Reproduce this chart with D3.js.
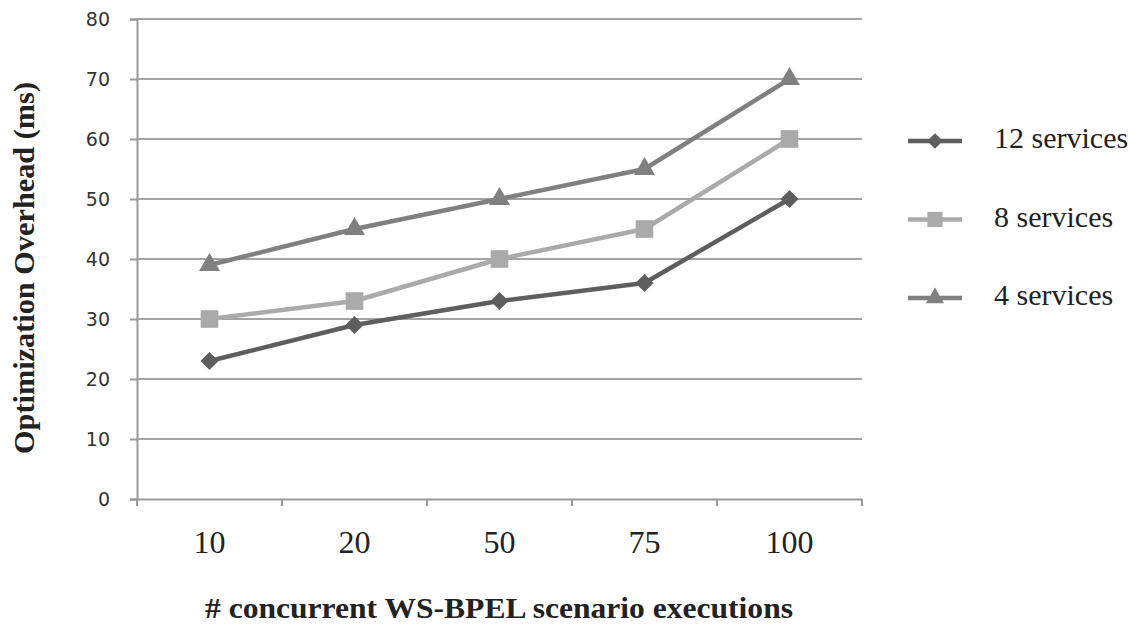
<!DOCTYPE html>
<html>
<head>
<meta charset="utf-8">
<script src="https://cdn.jsdelivr.net/npm/d3@7"></script>
<style>
  body { margin: 0; background: #fff; }
</style>
</head>
<body>
<div id="chart"></div>
<script>
// Chart data
var categories = ["10", "20", "50", "75", "100"];
var seriesNames = ["12 services", "8 services", "4 services"];
var services12 = [23, 29, 33, 36, 50];
var services8 = [30, 33, 40, 45, 60];
var services4 = [39, 45, 50, 55, 70];
var yTicks = [0, 10, 20, 30, 40, 50, 60, 70, 80];

var svgWidth = 1130;
var svgHeight = 626;

var margin = { top: 19, right: 268, bottom: 127, left: 137 };
var width = svgWidth - margin.left - margin.right;
var height = svgHeight - margin.top - margin.bottom;

var serif = "'Liberation Serif', 'Times New Roman', serif";

var svg = d3.select("#chart")
  .append("svg")
  .attr("width", svgWidth)
  .attr("height", svgHeight);

var chartGroup = svg.append("g")
  .attr("transform", `translate(${margin.left}, ${margin.top})`);

var xScale = d3.scaleBand()
  .domain(categories)
  .range([0, width]);

var yScale = d3.scaleLinear()
  .domain([0, 80])
  .range([height, 0]);

// gridlines
chartGroup.append("g")
  .selectAll("line")
  .data(yTicks.slice(1))
  .enter()
  .append("line")
  .attr("x1", 0)
  .attr("x2", width)
  .attr("y1", d => yScale(d))
  .attr("y2", d => yScale(d))
  .attr("stroke", "#a3a3a3")
  .attr("stroke-width", 2);

// y axis
var yAxis = chartGroup.append("g")
  .call(d3.axisLeft(yScale).tickValues(yTicks).tickSize(7).tickPadding(20));
yAxis.select(".domain").attr("stroke", "#999").attr("stroke-width", 2);
yAxis.selectAll(".tick line").attr("stroke", "#999").attr("stroke-width", 2);
yAxis.selectAll(".tick text")
  .attr("font-family", "'DejaVu Sans', Verdana, sans-serif")
  .attr("font-size", 19)
  .attr("fill", "#333");

// x axis, ticks on category boundaries
var xAxis = chartGroup.append("g")
  .attr("transform", `translate(0, ${height})`)
  .call(d3.axisBottom(xScale).tickSize(0).tickPadding(0));
xAxis.select(".domain").attr("stroke", "#999").attr("stroke-width", 2);
xAxis.selectAll(".tick text")
  .attr("y", 54)
  .attr("dy", null)
  .attr("font-family", serif)
  .attr("font-size", 32)
  .attr("fill", "#222");

var boundaries = categories.map(c => xScale(c)).concat([width]);
xAxis.selectAll(".bound")
  .data(boundaries)
  .enter()
  .append("line")
  .attr("class", "bound")
  .attr("x1", d => d)
  .attr("x2", d => d)
  .attr("y1", 0)
  .attr("y2", 7)
  .attr("stroke", "#999")
  .attr("stroke-width", 2);

// series (diamond = square turned 45 degrees)
var series = [
  { name: seriesNames[0], values: services12, color: "#5e5e5e", symbol: d3.symbolSquare, size: 165, rot: 45 },
  { name: seriesNames[1], values: services8, color: "#aaaaaa", symbol: d3.symbolSquare, size: 310, rot: 0 },
  { name: seriesNames[2], values: services4, color: "#808080", symbol: d3.symbolTriangle, size: 190, rot: 0 }
];

var line = d3.line()
  .x((d, i) => xScale(categories[i]) + xScale.bandwidth() / 2)
  .y(d => yScale(d));

series.forEach(function(s) {
  chartGroup.append("path")
    .datum(s.values)
    .attr("d", line)
    .attr("fill", "none")
    .attr("stroke", s.color)
    .attr("stroke-width", 4.5)
    .attr("stroke-linejoin", "round");

  chartGroup.selectAll(null)
    .data(s.values)
    .enter()
    .append("path")
    .attr("d", d3.symbol().type(s.symbol).size(s.size))
    .attr("transform", (d, i) => `translate(${xScale(categories[i]) + xScale.bandwidth() / 2}, ${yScale(d)}) rotate(${s.rot})`)
    .attr("fill", s.color);
});

// legend
var legend = svg.append("g")
  .attr("transform", "translate(908, 141)");

series.forEach(function(s, i) {
  var row = legend.append("g")
    .attr("transform", `translate(0, ${i * 78.5})`);
  row.append("line")
    .attr("x1", 0)
    .attr("x2", 54)
    .attr("stroke", s.color)
    .attr("stroke-width", 4.5);
  row.append("path")
    .attr("d", d3.symbol().type(s.symbol).size(s.size * 0.75))
    .attr("transform", `translate(27, 0) rotate(${s.rot})`)
    .attr("fill", s.color);
  row.append("text")
    .attr("x", 86)
    .attr("y", 7)
    .attr("font-family", serif)
    .attr("font-size", 30)
    .attr("fill", "#222")
    .text(s.name);
});

// axis titles
svg.append("text")
  .attr("transform", "translate(34, 268) rotate(-90)")
  .attr("text-anchor", "middle")
  .attr("font-family", serif)
  .attr("font-weight", "bold")
  .attr("font-size", 30)
  .attr("textLength", 372)
  .attr("lengthAdjust", "spacingAndGlyphs")
  .attr("fill", "#222")
  .text("Optimization Overhead (ms)");

svg.append("text")
  .attr("x", 499)
  .attr("y", 618)
  .attr("text-anchor", "middle")
  .attr("font-family", serif)
  .attr("font-weight", "bold")
  .attr("font-size", 29)
  .attr("textLength", 588)
  .attr("lengthAdjust", "spacingAndGlyphs")
  .attr("fill", "#222")
  .text("# concurrent WS-BPEL scenario executions");
</script>
</body>
</html>
